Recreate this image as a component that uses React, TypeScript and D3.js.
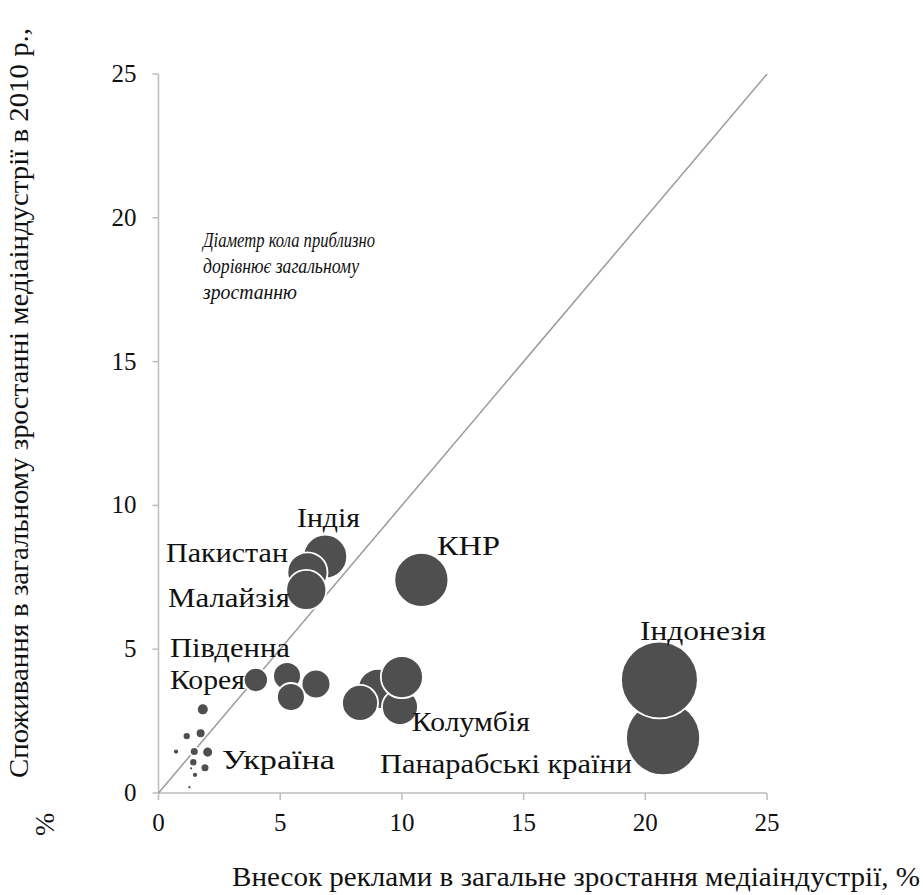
import React from "react";
import { scaleLinear, range } from "d3";

// bubbles in drawing order: ad share (x), consumer share (y), total growth (~ diameter)
const adShare = [1.82, 1.16, 1.73, 0.72, 1.47, 2.02, 1.43, 1.34, 1.91, 1.5, 1.27,
  4.0, 5.28, 6.47, 5.44,
  9.02, 9.92, 8.28, 10.0,
  6.85, 6.12, 6.07, 10.8,
  20.73, 20.58];
const consumerShare = [2.91, 1.98, 2.08, 1.44, 1.44, 1.42, 1.07, 0.86, 0.88, 0.63, 0.2,
  3.93, 4.07, 3.79, 3.34,
  3.62, 2.99, 3.13, 4.03,
  8.22, 7.67, 7.06, 7.41,
  1.91, 3.93];
const totalGrowth = [3.5, 2.4, 2.9, 1.8, 2.6, 3.2, 2.4, 1.2, 2.6, 1.8, 1.2,
  7.1, 8.2, 8.5, 8.2,
  11.8, 10.6, 10.6, 12.4,
  12.9, 11.8, 11.8, 15.9,
  21.8, 22.6];

const countryLabels = ["Індія", "Пакистан", "Малайзія", "КНР", "Південна", "Корея",
  "Україна", "Індонезія", "Колумбія", "Панарабські країни"];
const labelX = [5.69, 0.31, 0.39, 11.44, 0.47, 0.47, 2.61, 19.78, 10.41, 9.1];
const labelY = [9.25, 8.03, 6.47, 8.28, 4.73, 3.62, 0.83, 5.32, 2.16, 0.7];
const labelWidth = [63, 122, 122, 63, 120, 75, 113, 126, 118, 252];

const ticks = [0, 5, 10, 15, 20, 25];
const noteLines = ["Діаметр кола приблизно", "дорівнює загальному", "зростанню"];
const noteWidth = [172, 156, 94];
const xTitle = "Внесок реклами в загальне зростання медіаіндустрії, %";
const yTitle = "Споживання в загальному зростанні медіаіндустрії в 2010 р.,";

const axisColor = "#bdbdbd";
const ink = "#111";
const face = '"Liberation Serif", "Times New Roman", Tinos, serif';

const x = scaleLinear().domain([0, 25]).range([158.5, 767]);
const y = scaleLinear().domain([0, 25]).range([793, 74]);
const diam = scaleLinear().domain([0, 10]).range([0, 34]);

function T({ size, italic = false, children, ...rest }) {
  return (
    <text
      fill={ink}
      fontFamily={face}
      fontSize={size}
      fontStyle={italic ? "italic" : undefined}
      style={{ fontFamily: face }}
      {...rest}
    >
      {children}
    </text>
  );
}

function App() {
  return (
    <svg width={923} height={895} style={{ position: "absolute", left: 0, top: 0 }}>
      <rect width={923} height={895} fill="#fff" />
      {/* y axis */}
      <line x1={x(0)} x2={x(0)} y1={y(0)} y2={y(25)} stroke={axisColor} strokeWidth={1.5} />
      {ticks.map((t) => (
        <g key={"y" + t} transform={`translate(${x(0)},${y(t)})`}>
          <line x1={-6} x2={0} stroke={axisColor} strokeWidth={1.5} />
          <T size={25} x={-22} y={8} textAnchor="end">{t}</T>
        </g>
      ))}

      {/* x axis */}
      <line x1={x(0)} x2={x(25)} y1={y(0)} y2={y(0)} stroke={axisColor} strokeWidth={1.5} />
      {ticks.map((t) => (
        <g key={"x" + t} transform={`translate(${x(t)},${y(0)})`}>
          <line y1={0} y2={7} stroke={axisColor} strokeWidth={1.5} />
          <T size={25} y={38} textAnchor="middle">{t}</T>
        </g>
      ))}

      {/* diagonal */}
      <line x1={x(0)} y1={y(0)} x2={x(25)} y2={y(25)} stroke="#9a9a9a" strokeWidth={1.5} />

      {/* bubbles */}
      {range(adShare.length).map((i) => (
        <circle
          key={i}
          cx={x(adShare[i])}
          cy={y(consumerShare[i])}
          r={diam(totalGrowth[i]) / 2}
          fill="#4f4f4f"
          stroke="#fff"
          strokeWidth={1.8}
        />
      ))}

      {/* country labels */}
      {countryLabels.map((t, i) => (
        <T
          key={t}
          size={27}
          x={x(labelX[i])}
          y={y(labelY[i])}
          textLength={labelWidth[i]}
          lengthAdjust="spacingAndGlyphs"
        >
          {t}
        </T>
      ))}

      {/* note */}
      {noteLines.map((t, i) => (
        <T
          key={t}
          size={21}
          italic
          x={203}
          y={247 + i * 26}
          textLength={noteWidth[i]}
          lengthAdjust="spacingAndGlyphs"
        >
          {t}
        </T>
      ))}

      {/* axis titles */}
      <T size={27} x={920} y={886} textAnchor="end" textLength={688} lengthAdjust="spacingAndGlyphs">
        {xTitle}
      </T>
      <T size={28} transform="translate(28,778) rotate(-90)" textLength={750} lengthAdjust="spacingAndGlyphs">
        {yTitle}
      </T>
      <T size={28} transform="translate(54,836) rotate(-90)">%</T>
    </svg>
  );
}

export default App;
